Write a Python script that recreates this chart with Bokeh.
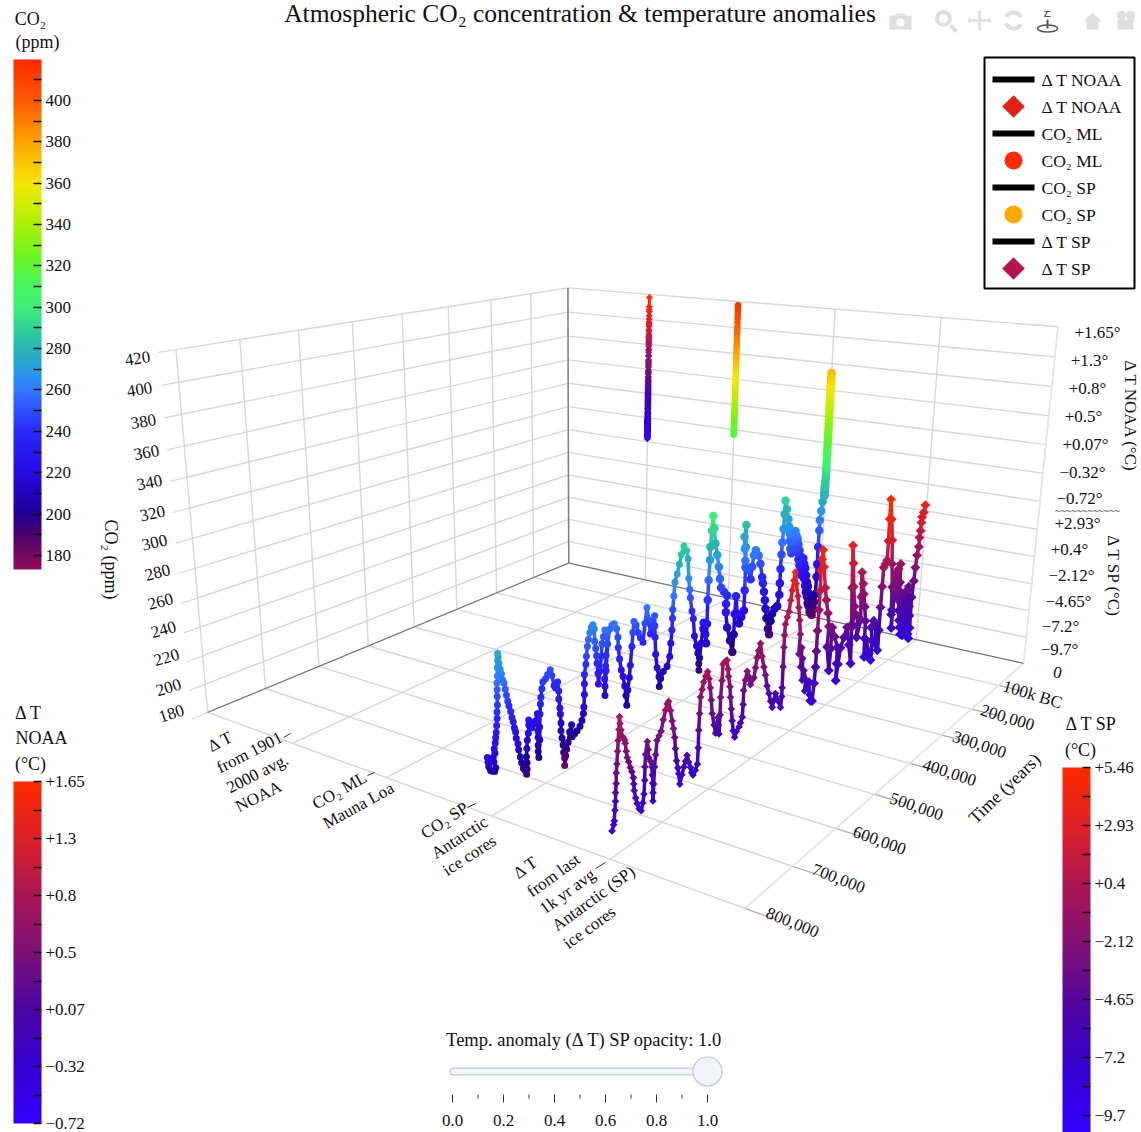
import numpy as np
from bokeh.plotting import figure
from bokeh.models import (Range1d, ColumnDataSource, LinearColorMapper, ColorBar, FixedTicker)
from bokeh.transform import transform
from bokeh.core.properties import value
from bokeh.embed import file_html
from bokeh.resources import INLINE

FONT = "Liberation Serif"
T_TICKS = [0,100,200,300,400,500,600,700,800]
Z_TICKS = list(range(180,440,20))

# CO2 SP: years before present (thousands) and ppm
sp_co2_kyr=[805,804,803,800,797,793,791,794,795,792,793,791,790,789,
788,787,787,786,786,786,786,785,785,784,784,783,782,780,
778,776,774,772,770,768,766,763,761,759,757,755,754,751,
750,747,745,742,739,736,735,735,736,735,734,732,731,731,
728,725,722,719,715,714,714,714,714,714,713,711,711,710,
709,708,706,704,699,695,690,687,683,680,676,674,674,672,
671,670,670,668,666,665,663,663,661,659,656,653,649,648,
643,638,632,628,625,624,623,623,623,620,619,617,615,612,
609,606,603,602,600,598,597,595,594,591,588,587,584,581,
577,576,578,579,581,580,580,578,575,571,566,561,556,553,
552,549,545,541,537,534,532,530,527,525,522,520,518,513,
508,503,497,493,489,484,480,476,471,470,469,467,463,458,
457,454,448,439,433,431,429,428,428,426,424,419,414,410,
404,397,393,390,387,385,380,376,372,366,362,359,358,357,
354,351,349,344,341,340,340,339,337,337,334,332,328,324,
318,313,309,305,297,288,290,290,285,276,268,266,265,263,
258,252,246,239,239,239,240,241,245,243,240,232,223,220,
216,211,202,196,189,186,182,178,175,171,165,161,158,154,
147,139,134,134,134,133,132,130,129,128,122,
116,113,110,108,106,104,102,100,98,96,94,92,90,88,86,84,82,80,78,76,74,72,70,68,66,64,62,60,58,56,54,52,50,48,46,44,42,40,38,36,34,32,30,28,26,24,22,20,18,
15,14,14,14,13,13,10,7,3,
2.5,2.2,2,1.8,1.6,1.4,1.2,1,.9,.8,.7,.6,.5,.45,.4,.36,.33,.3,.28,.26,.24,.22,.2,.19,.18,.17,.16,.15,.14,.13,.12,.11,.1,.095,.09,.085,.08,.075,.07,.065,.06,.055,.05,.045,.04,.035,.03,.025,.02]
sp_co2_ppm=[217,214,211,208,207,206,208,212,215,217,220,223,226,229,
233,237,241,245,250,254,258,262,267,271,275,273,269,265,
262,258,256,252,248,244,241,237,233,230,226,223,219,215,
211,206,202,198,196,193,196,200,204,209,214,218,223,226,
223,220,222,223,227,223,216,212,207,203,199,210,218,226,
232,236,241,245,246,248,250,246,239,237,240,234,229,223,
219,213,208,203,198,193,189,184,190,194,198,204,208,200,
201,202,204,207,211,215,223,230,236,242,247,253,257,261,
264,265,262,254,249,244,239,232,225,233,242,250,254,258,
255,248,241,234,226,221,215,231,248,257,259,259,255,249,
242,234,226,221,214,207,200,210,218,226,238,247,254,251,
245,241,237,249,259,250,240,245,251,244,236,224,214,207,
200,205,209,211,217,226,235,243,249,258,267,272,278,284,
289,285,279,265,257,251,241,235,222,214,208,200,195,204,
214,224,228,219,212,226,243,257,271,280,291,301,292,281,
272,263,254,247,243,239,233,227,215,204,194,207,222,235,
221,213,217,221,236,253,268,284,276,267,258,251,242,251,
259,262,257,250,239,234,227,220,213,205,196,191,201,206,
209,210,218,227,238,249,258,268,279,289,282,
274,268,262,256,250,258,246,253,259,249,256,262,252,258,248,255,244,250,238,245,233,240,228,236,224,231,237,226,232,220,228,214,222,208,216,204,212,198,206,195,202,190,197,188,194,186,192,190,196,
202,216,226,240,253,261,268,275,286,
280,279,281,283,282,280,284,286,288,290,292,294,296,298,300,302.5,305,307.5,310,312.5,315,317.5,320,322.5,325,327.5,330,332.5,335,337.5,340,342.5,345,347,349,351,353,355,357,359,361,362.5,364,365,367,369,370.5,372,373]
# Delta T SP: years before present (thousands), reading on the shared vertical axis
sp_dt_kyr=[797,794,793,792,
791,791,790,790,789,788,787,786,785,784,782,780,778,775,
774,772,770,767,764,761,758,757,756,753,750,746,742,739,
737,736,736,735,732,730,729,725,722,721,720,719,719,718,
717,715,713,709,705,701,697,694,691,687,683,680,677,675,
672,669,667,664,660,656,653,650,646,642,639,636,631,627,
626,626,625,624,621,618,614,610,606,603,600,597,592,588,
586,584,582,580,579,579,577,576,571,567,564,562,558,556,
553,550,547,543,539,533,530,526,525,525,522,518,514,509,
501,498,495,492,488,483,477,472,467,461,456,451,448,444,
437,429,427,427,427,427,427,426,422,418,415,412,409,406,
402,396,392,388,384,386,378,379,374,373,369,363,364,357,
353,350,346,341,338,336,336,336,335,335,335,334,332,327,
320,315,308,303,305,296,294,293,284,274,273,273,269,264,
255,247,238,229,233,239,244,239,234,227,232,223,215,215,
205,208,210,204,200,194,189,188,186,182,170,163,162,168,
161,152,153,141,142,141,140,139,134,129,129,130,130,123,
116,111,105,102,
100,98,96,94,92,90,88,86,84,82,80,78,76,74,72,70,68,66,64,62,60,58,56,54,52,50,48,46,44,42,40,38,36,34,32,30,
31,27,25,22,18,18,16,15,14,9,5]
sp_dt_axis=[196,199,201,207,
212,217,222,228,233,240,246,252,259,255,251,247,246,244,
242,237,233,230,226,223,219,215,211,206,202,198,196,200,
205,213,221,228,235,230,225,222,218,213,208,202,197,207,
217,224,232,234,236,242,247,250,251,245,238,233,227,220,
212,207,203,196,201,205,208,211,206,202,198,196,198,201,
211,222,232,242,246,250,253,255,250,244,236,227,219,213,
218,222,217,211,223,234,244,254,255,255,249,244,237,230,
222,214,207,202,205,207,209,212,220,229,235,240,236,230,
233,239,245,249,253,244,236,230,222,216,210,205,209,213,
207,201,208,214,228,241,249,256,260,263,270,276,282,287,
279,270,262,253,243,230,233,220,225,210,216,209,201,202,
206,196,191,190,202,213,224,238,252,265,279,286,292,280,
265,256,246,236,222,204,219,234,226,217,205,193,204,215,
221,227,213,198,225,254,284,271,254,239,227,233,230,215,
226,243,261,252,244,234,223,210,196,208,196,190,204,215,
219,214,201,209,194,226,241,255,257,259,273,289,303,288,
272,254,236,215,
218,204,232,245,226,241,228,247,235,224,250,236,214,228,206,219,200,213,194,208,224,206,192,212,226,203,193,210,228,215,196,212,190,204,186,194,
218,230,240,249,255,262,267,273,277,280,285]
noaa_years=list(range(0,141))
noaa_anom=[1.65,1.50,1.42,1.45,1.35,1.30,1.25,1.20,1.18,1.22,1.12,1.05,1.10,1.02,0.98,0.95,0.90,1.00,0.92,0.85,0.88,0.80,0.78,0.70,0.75,0.68,0.60,0.62,0.55,0.58,0.50,0.52,0.45,0.40,0.42,0.38,0.34,0.30,0.28,0.33,0.26,0.22,0.25,0.20,0.17,0.15,0.12,0.18,0.10,0.07,0.12,0.05,0.02,0.08,0.00,-0.03,0.04,-0.05,-0.08,-0.02,-0.10,-0.13,-0.06,-0.15,-0.18,-0.12,-0.20,-0.22,-0.16,-0.25,-0.28,-0.20,-0.30,-0.27,-0.32,-0.35,-0.30,-0.38,-0.34,-0.40,-0.36,-0.42,-0.38,-0.44,-0.47,-0.41,-0.50,-0.46,-0.43,-0.52,-0.48,-0.55,-0.50,-0.58,-0.53,-0.60,-0.56,-0.62,-0.65,-0.60,-0.68,-0.64,-0.72,-0.69,-0.66,-0.70,-0.63,-0.67,-0.60,-0.64,-0.58,-0.62,-0.56,-0.59,-0.54,-0.57,-0.52,-0.55,-0.50,-0.53,-0.48,-0.51,-0.46,-0.50,-0.47,-0.52,-0.45,-0.49,-0.44,-0.47,-0.42,-0.46,-0.43,-0.45,-0.40,-0.44,-0.41,-0.43,-0.39,-0.42,-0.40]
ml_years=list(range(0,63))
ml_ppm=[417.0,414.2,412.6,409.8,407.4,404.2,400.8,398.6,396.5,393.9,391.6,389.9,387.4,385.6,383.8,381.9,379.8,377.5,375.8,373.3,371.1,369.6,368.4,366.7,363.7,362.6,360.8,358.8,357.1,356.5,355.6,354.4,353.1,351.6,349.2,347.4,346.1,344.6,343.1,341.4,340.1,338.8,336.8,335.4,333.8,332.0,331.1,330.2,329.7,327.5,326.3,325.7,324.6,323.0,322.2,321.4,320.0,319.6,319.0,318.4,317.6,316.9,316.0]
legend_labels=["Δ T  NOAA","Δ T  NOAA","CO₂ ML","CO₂ ML","CO₂ SP","CO₂ SP","Δ T  SP","Δ T  SP"]

# camera calibration from the corners of the 3D box
world = np.array([(-1,0,180),(-1,0,420),(-1,800,180),(-1,800,420),(4,0,180),(4,0,420),(4,800,180)],float)
scr = np.array([(568,563),(568,287),(207,711),(175,350),(1023,663),(1057,326),(745,908)],float)
A=[];b=[]
for (X,Y,Z),(sx,sy) in zip(world,scr):
    A.append([X,Y,Z,1,0,0,0,0,-sx*X,-sx*Y,-sx*Z]);b.append(sx)
    A.append([0,0,0,0,X,Y,Z,1,-sy*X,-sy*Y,-sy*Z]);b.append(sy)
sc=np.abs(A).max(axis=0)
sol=np.linalg.lstsq(np.array(A)/sc,np.array(b),rcond=None)[0]/sc
P=np.append(sol,1).reshape(3,4)
def proj(u,t,z):
    u,t,z=np.broadcast_arrays(np.asarray(u,float),np.asarray(t,float),np.asarray(z,float))
    H=np.stack([u,t,z,np.ones_like(u)],axis=-1)@P.T
    return H[...,0]/H[...,2],H[...,1]/H[...,2]

def scale(stops,n=256):
    xs=[s[0] for s in stops]; cols=np.array([s[1] for s in stops],float)
    g=np.linspace(0,1,n)
    return ["#%02x%02x%02x"%tuple(int(round(np.interp(v,xs,cols[:,i]))) for i in range(3)) for v in g]
def stops_co2():
    lo,hi=173.2,419.8
    st=[(173.2,(145,15,90)),(190,(75,0,110)),(200,(30,0,150)),(220,(40,10,230)),(240,(42,40,250)),(260,(50,120,255)),(268,(40,150,235)),(280,(40,180,180)),(300,(60,240,120)),(310,(70,245,95)),(325,(110,245,30)),(340,(170,240,5)),(360,(245,232,0)),(380,(255,165,0)),(400,(255,90,0)),(419.8,(255,42,0))]
    return [((a-lo)/(hi-lo),c) for a,c in st]
TEMP=[(0,(50,0,255)),(0.17,(55,0,210)),(0.33,(75,5,165)),(0.5,(125,15,120)),(0.67,(170,22,85)),(0.83,(220,32,40)),(1,(255,42,0))]
m_co2=LinearColorMapper(palette=scale(stops_co2()),low=173.2,high=419.8)
m_noaa=LinearColorMapper(palette=scale(TEMP),low=-0.72,high=1.65)
m_sp=LinearColorMapper(palette=scale(TEMP),low=-10.45,high=5.46)

p=figure(width=1141,height=1132,x_range=Range1d(0,1141),y_range=Range1d(1132,0),x_axis_location=None,y_axis_location=None,
         toolbar_location=None,output_backend="svg",min_border=0,outline_line_color=None,tools="")
p.grid.visible=False

def seg(pts,color,w,dash="solid"):
    x0=[];y0=[];x1=[];y1=[]
    for a,b_ in pts:
        xa,ya=proj(*a);xb,yb=proj(*b_)
        x0.append(float(xa));y0.append(float(ya));x1.append(float(xb));y1.append(float(yb))
    p.segment(x0,y0,x1,y1,line_color=color,line_width=w,line_dash=dash)
GC="#d6d6d6"
U=[-1,0,1,2,3,4]
g=[]
for t in T_TICKS:
    g.append(((-1,t,180),(-1,t,420)))
    g.append(((-1,t,180),(4,t,180)))
for z in Z_TICKS:
    g.append(((-1,0,z),(-1,800,z)))
    g.append(((-1,0,z),(4,0,z)))
for u in U:
    g.append(((u,0,180),(u,0,420)))
    g.append(((u,0,180),(u,800,180)))
seg(g,GC,1.4)
seg([((-1,800,z),(-1,826,z)) for z in Z_TICKS],GC,1.2)
seg([((4,t,180),(4.22,t,180)) for t in T_TICKS[1:]],"#a8a8a8",1.2)
seg([((4,0,180),(4,800,180)),((4,0,180),(4,0,420))],"#e6e6e6",1.4)
seg([((-1,0,180),(-1,800,180)),((-1,0,180),(4,0,180))],"#6a6a6a",1.0)
seg([((-1,0,180),(-1,0,420))],"#808080",1.4)
p.segment([283,367,467,595],[737,775,807,868],[290,374,475,605],[733,772,803,862],line_color="#333333",line_width=1)

def series(u,ts,vs,zs,mapper,marker,size,lw=3,angle=0,size_back=None):
    ts=np.array(ts,float);vs=np.array(vs,float);zs=np.array(zs,float)
    x,y=proj(u,ts,zs)
    s=ColumnDataSource(dict(x0=x[:-1],y0=y[:-1],x1=x[1:],y1=y[1:],v=(vs[:-1]+vs[1:])/2))
    p.segment('x0','y0','x1','y1',source=s,line_color=transform('v',mapper),line_width=lw)
    order=np.argsort(ts)
    sizes=np.full(len(ts),float(size))
    if size_back: sizes[ts<350]=size_back
    m=ColumnDataSource(dict(x=x[order],y=y[order],v=vs[order],s=sizes[order]))
    p.scatter('x','y',source=m,marker=marker,size='s',angle=angle,fill_color=transform('v',mapper),line_color=None)

na=np.array(noaa_anom)
series(0,np.array(noaa_years)/1000,na,302.5+(na+0.72)/2.37*115,m_noaa,"square",5,angle=np.pi/4)
ml=np.array(ml_ppm)
series(1,np.array(ml_years)/1000,ml,ml,m_co2,"circle",6.5)
sv=np.array(sp_co2_ppm)
series(2,sp_co2_kyr,sv,sv,m_co2,"circle",7,size_back=8.5,lw=3.5)
sz_=np.array(sp_dt_axis,float)
series(3,sp_dt_kyr,-9.7+(sz_-180)/120*15.16,sz_,m_sp,"square",5.4,angle=np.pi/4,size_back=7,lw=3.5)

tx=[]
def T(s,x,y,size=17,ang=0):
    tx.append((s,x,y,size,np.deg2rad(ang)))
T("Atmospheric CO₂ concentration & temperature anomalies",579.5,12.5,25.5)
T("CO₂",30,18,18);T("(ppm)",37,41,18)
T("Δ T",28,712,18);T("NOAA",41,737,18);T("(°C)",30,763,18)
T("Δ T  SP",1093,723,18);T("(°C)",1080,749,18)
T("CO₂ (ppm)",110,559,18,-90)
for lab,x,y,a in zip(Z_TICKS[::-1],[137,139,143,146,149,152,154,157,160,163,166,168,171],[358,389,421,452,482,513,542,572,601,629,657,687,713],np.linspace(8,18,13)):
    T(str(lab),x,y,17,a)
for s,x,y in [("+1.65°",1097,332),("+1.3°",1089,360),("+0.8°",1087,388),("+0.5°",1083,416),("+0.07°",1085,444),("−0.32°",1082,472),("−0.72°",1079,498),("+2.93°",1077,523),("+0.4°",1069,549),("−2.12°",1071,575),("−4.65°",1068,601),("−7.2°",1060,626),("−9.7°",1059,649)]:
    T(s,x,y,17)
T("~~~~~~~~~~~~",1087,510,10)
T("Δ T NOAA (°C)",1130,416,17,-90)
T("Δ T SP (°C)",1113,576,17,-90)
for s,x,y,a in [("0",1057,672,-12),("100k BC",1032,694,-17),("200,000",1007,717,-17),("300,000",979,744,-18),("400,000",949,772,-18),("500,000",916,806,-19),("600,000",879,840,-20),("700,000",838,878,-21),("800,000",792,922,-22)]:
    T(s,x,y,17,a)
T("Time (years)",1004,788,18,44)
for s,x,y,a in [("Δ T",220,741,27),("from 1901",249,752,27),("2000 avg.",257,773,27),("NOAA",258,796,27),
                ("CO₂ ML",339,790,29),("Mauna Loa",358,805,29),
                ("CO₂ SP",444,820,33),("Antarctic",459,837,33),("ice cores",469,855,33),
                ("Δ T",525,867,36),("from last",553,875,36),("1k yr avg",567,891,36),("Antarctic (SP)",593,898,36),("ice cores",589,927,36)]:
    T(s,x,y,17,a)
T("Temp. anomaly (Δ T) SP opacity: 1.0",584,1039,18.5)
p.segment([453],[1071],[718],[1071],line_color="#bec8d9",line_width=8,line_cap="round")
p.segment([453],[1071],[718],[1071],line_color="#f3f5fa",line_width=5.5,line_cap="round")
p.scatter([707],[1071],size=29,marker="circle",fill_color="#f2f3f6",line_color="#bec8d9",line_width=1.2)
SL=[0.0,0.2,0.4,0.6,0.8,1.0]
sx=lambda v:452+255*v
p.segment([sx(v) for v in SL],[1094]*6,[sx(v) for v in SL],[1102]*6,line_color="#333333",line_width=1)
p.segment([sx(v+.1) for v in SL[:-1]],[1094]*5,[sx(v+.1) for v in SL[:-1]],[1098]*5,line_color="#333333",line_width=1)
for v in SL:
    T("%.1f"%v,sx(v),1120,17)

# legend box
p.quad([984],[1134],[57],[288],fill_color="white",line_color="black",line_width=2)
rows=[79+27*i for i in range(8)]
p.segment([992]*4,rows[0::2],[1034]*4,rows[0::2],line_color="black",line_width=6)
p.scatter([1013,1013],[rows[1],rows[7]],marker="square",size=16,angle=np.pi/4,fill_color=["#e3221a","#b0154c"],line_color=None)
p.scatter([1013,1013],[rows[3],rows[5]],marker="circle",size=18,fill_color=["#ff2a00","#fba800"],line_color=None)
p.text([1041]*8,rows,text=legend_labels,text_font=value(FONT),text_font_size="17.5px",text_align="left",text_baseline="middle",text_color="#111111")

src=ColumnDataSource(dict(t=[a[0] for a in tx],x=[a[1] for a in tx],y=[a[2] for a in tx],s=["%gpx"%a[3] for a in tx],a=[a[4] for a in tx]))
p.text('x','y',text='t',source=src,text_font=value(FONT),text_font_size='s',angle='a',angle_units='rad',text_align='center',text_baseline='middle',text_color="#111111")

def cbar(mapper,ticks,minor,labels,x,ybottom,h):
    cb=ColorBar(color_mapper=mapper,ticker=FixedTicker(ticks=ticks,minor_ticks=minor),major_label_overrides=dict(zip(ticks,labels)),
        location=(x,ybottom),width=28,height=h,padding=0,margin=0,major_tick_in=8,major_tick_out=0,minor_tick_in=8,minor_tick_out=0,
        major_tick_line_color="#111111",minor_tick_line_color="#111111",major_tick_line_width=1.5,minor_tick_line_width=1.5,
        bar_line_color=None,border_line_color=None,background_fill_alpha=0,label_standoff=4,
        major_label_text_font=FONT,major_label_text_font_size="17px",major_label_text_color="#111111",title=None)
    p.add_layout(cb,'center')
ct=list(range(180,401,20)); cm=list(range(190,420,20))
cbar(m_co2,ct,cm,[str(v) for v in ct],13,1132-569,510)
nt=[-0.72,-0.325,0.07,0.465,0.86,1.255,1.65]; nm=[-0.5225,-0.1275,0.2675,0.6625,1.0575,1.4525]
cbar(m_noaa,nt,nm,["−0.72","−0.32","+0.07","+0.5","+0.8","+1.3","+1.65"],13,1132-1123,342)
st=[-9.7,-7.2,-4.65,-2.12,0.4,2.93,5.46]; sm=[-8.45,-5.93,-3.39,-0.86,1.67,4.2]
cbar(m_sp,st,sm,["−9.7","−7.2","−4.65","−2.12","+0.4","+2.93","+5.46"],1062,0,365)

IC="#dedede"
p.quad([889],[911],[15],[29],fill_color=IC,line_color=None)
p.quad([895],[905],[13],[15],fill_color=IC,line_color=None)
p.scatter([900],[22],size=8,marker="circle",fill_color="white",line_color=None)
p.scatter([943],[18],size=13,marker="circle",fill_color="white",line_color=IC,line_width=4)
p.segment([950],[25],[956],[31],line_color=IC,line_width=4)
p.segment([969,979],[20,11],[989,979],[20,29],line_color=IC,line_width=2.5)
p.scatter([969,989,979,979],[20,20,12,28],marker="diamond",size=6,fill_color=IC,line_color=None)
p.annular_wedge([1013],[20],inner_radius=6,outer_radius=10,start_angle=[0.4],end_angle=[2.7],fill_color=IC,line_color=None)
p.annular_wedge([1013],[20],inner_radius=6,outer_radius=10,start_angle=[3.5],end_angle=[5.8],fill_color=IC,line_color=None)
p.segment([1044,1047,1044],[11,11,16],[1050,1044,1050],[11,16,16],line_color="#555555",line_width=1.2)
p.segment([1047],[19],[1047],[28],line_color="#555555",line_width=2)
p.ellipse([1047],[28],width=20,height=7,fill_color=None,line_color="#555555",line_width=1.5)
p.patches([[1083,1092,1101,1098,1098,1086,1086]],[[21,12,21,21,29,29,21]],fill_color=IC,line_color=None)
p.quad([1117],[1133],[19],[29],fill_color=IC,line_color=None)
p.scatter([1121,1130],[15,15],marker="circle",size=9,fill_color=IC,line_color=None)

open("out.html","w").write(file_html(p,INLINE))
